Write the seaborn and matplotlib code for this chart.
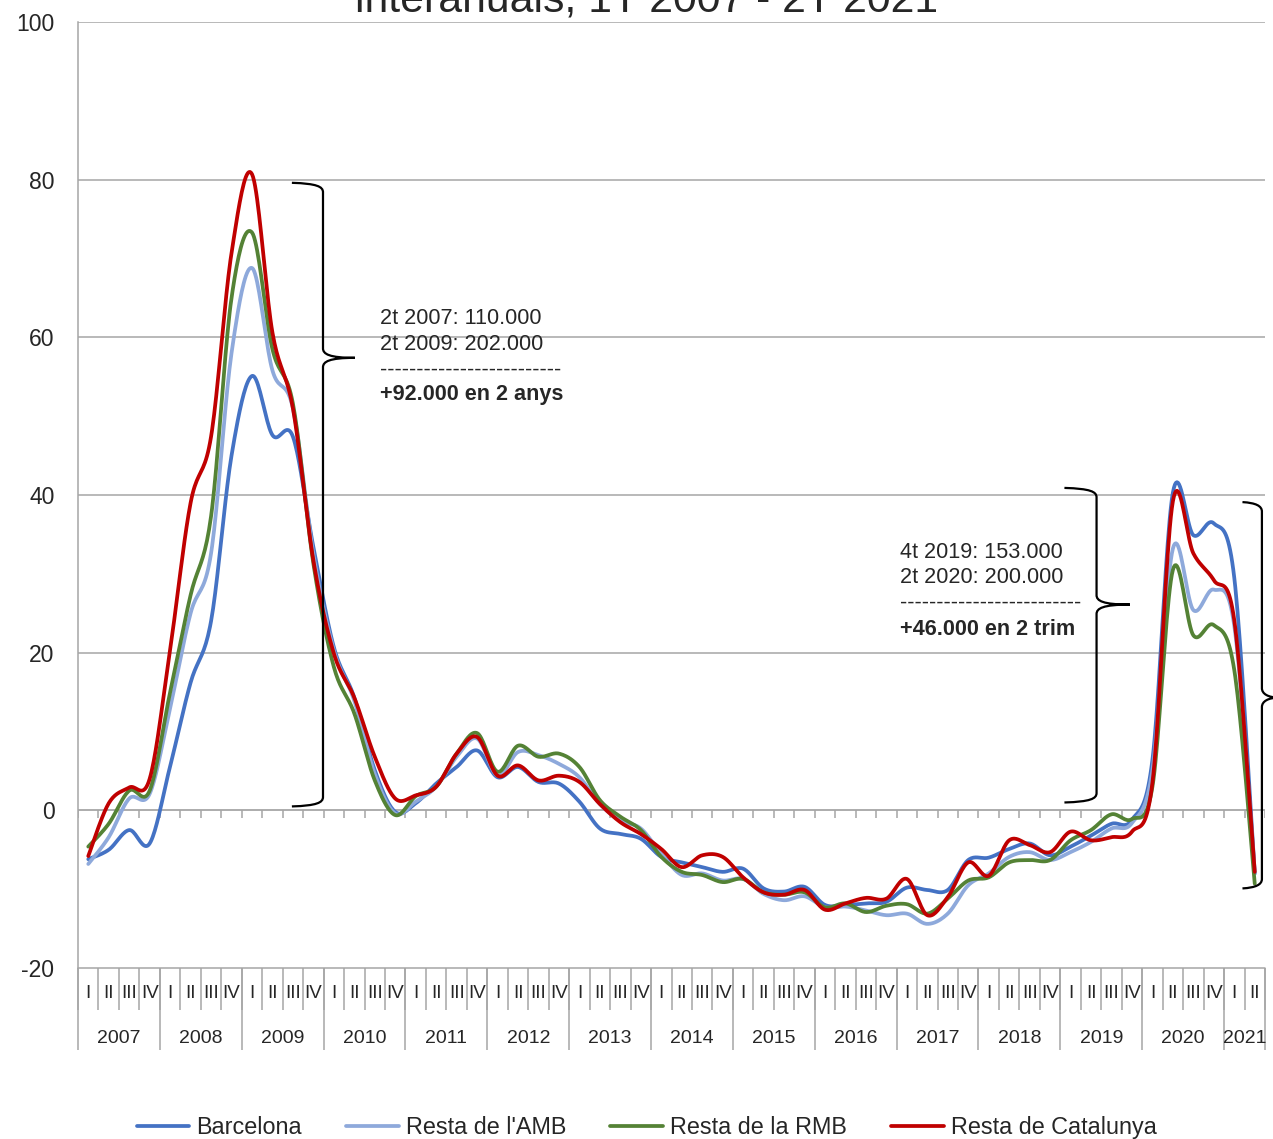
import numpy as np
import pandas as pd
import seaborn as sns
import matplotlib.pyplot as plt
from matplotlib.path import Path
from matplotlib.patches import PathPatch
from matplotlib.lines import Line2D

# quarterly data, 1T 2007 - 2T 2021
years = ["2007", "2008", "2009", "2010", "2011", "2012", "2013", "2014",
         "2015", "2016", "2017", "2018", "2019", "2020", "2021"]
quarters_per_year = [4] * 14 + [2]
quarter_names = ["I", "II", "III", "IV"]

series_names = ["Barcelona", "Resta de l'AMB", "Resta de la RMB", "Resta de Catalunya"]
series_colors = ["#4472C4", "#8EA9DB", "#548235", "#C00000"]

barcelona = [-6.2, -5.0, -2.5, -4.2, 5.6, 16.2, 24.0, 45.0, 55.1, 47.6, 47.4, 33.4,
             20.7, 14.3, 5.1, -0.2, 0.9, 3.4, 5.5, 7.6, 4.2, 5.5, 3.6, 3.4,
             1.1, -2.3, -3.0, -3.6, -5.9, -6.6, -7.2, -7.8, -7.4, -9.9, -10.3, -9.7,
             -12.0, -12.0, -11.8, -11.6, -9.8, -10.1, -10.1, -6.3, -6.0, -4.9, -4.2, -5.7,
             -4.6, -3.2, -1.7, -1.2, 6.4, 40.3, 34.9, 36.4, 29.5, -8.0]
resta_amb = [-6.8, -3.4, 1.5, 2.1, 13.0, 25.0, 32.6, 58.0, 68.8, 55.8, 51.0, 32.5,
             20.3, 13.9, 4.6, -0.4, 1.1, 3.0, 6.8, 9.1, 4.4, 7.4, 7.0, 5.9,
             4.2, 0.8, -1.3, -2.3, -5.5, -8.2, -8.0, -8.9, -8.7, -10.6, -11.4, -10.9,
             -12.3, -12.2, -12.7, -13.3, -13.1, -14.4, -13.1, -9.5, -8.0, -5.9, -5.3, -6.3,
             -5.3, -4.0, -2.3, -1.6, 5.1, 33.2, 25.4, 28.0, 23.4, -8.0]
resta_rmb = [-4.6, -1.7, 2.5, 2.5, 15.0, 27.3, 37.3, 65.0, 73.3, 58.5, 51.6, 31.3,
             18.2, 12.3, 3.8, -0.6, 1.8, 3.0, 7.2, 9.8, 4.9, 8.2, 6.8, 7.2,
             5.5, 1.3, -0.8, -2.5, -5.9, -7.8, -8.2, -9.1, -8.7, -10.4, -10.7, -10.4,
             -12.3, -11.8, -12.9, -12.1, -11.9, -13.1, -11.2, -8.9, -8.5, -6.6, -6.3, -6.3,
             -3.8, -2.5, -0.5, -1.1, 3.0, 30.5, 22.2, 23.5, 17.8, -9.3]
resta_cat = [-5.8, 0.9, 2.9, 4.0, 20.4, 39.0, 47.4, 70.7, 80.7, 60.6, 51.0, 31.7,
             19.9, 14.3, 6.8, 1.5, 1.9, 3.0, 7.2, 9.3, 4.4, 5.7, 3.8, 4.4,
             3.6, 0.8, -1.5, -3.0, -4.9, -7.2, -5.7, -5.9, -8.5, -10.4, -10.7, -10.1,
             -12.6, -11.8, -11.1, -11.2, -8.7, -13.3, -11.0, -6.6, -8.3, -3.8, -4.4, -5.3,
             -2.7, -3.8, -3.4, -2.7, 3.5, 39.2, 32.6, 29.2, 24.1, -7.8]

note_left = ["2t 2007: 110.000", "2t 2009: 202.000", "-" * 25, "+92.000 en 2 anys"]
note_right = ["4t 2019: 153.000", "2t 2020: 200.000", "-" * 25, "+46.000 en 2 trim"]
title_line = "interanuals, 1T 2007 - 2T 2021"


def smooth_curve(values, steps=20):
    """Smoothed line through the points (Bezier, like a spreadsheet smoothed line)."""
    y = np.asarray(values, dtype=float)
    x = np.arange(len(y), dtype=float)
    px = np.concatenate([[x[0]], x, [x[-1]]])
    py = np.concatenate([[y[0]], y, [y[-1]]])
    t = np.linspace(0, 1, steps, endpoint=False)
    xs, ys = [], []
    for i in range(1, len(px) - 2):
        for p, out in ((px, xs), (py, ys)):
            p0, p1, p2, p3 = p[i - 1], p[i], p[i + 1], p[i + 2]
            c1 = p1 + (p2 - p0) / 6
            c2 = p2 - (p3 - p1) / 6
            out.extend((1 - t) ** 3 * p1 + 3 * (1 - t) ** 2 * t * c1
                       + 3 * (1 - t) * t ** 2 * c2 + t ** 3 * p2)
    xs.append(x[-1])
    ys.append(y[-1])
    return np.array(xs), np.array(ys)


def draw_brace(ax, x_arm, x_bar, x_tip, y_top, y_mid, y_bot, r=1.2):
    verts = [(x_arm, y_top),
             (x_bar - 0.3, y_top - 0.1), (x_bar, y_top - r * 0.4), (x_bar, y_top - r),
             (x_bar, y_mid + r),
             (x_bar, y_mid + r * 0.4), (x_bar + 0.3, y_mid), (x_tip, y_mid),
             (x_bar + 0.3, y_mid), (x_bar, y_mid - r * 0.4), (x_bar, y_mid - r),
             (x_bar, y_bot + r),
             (x_bar, y_bot + r * 0.4), (x_bar - 0.3, y_bot + 0.1), (x_arm, y_bot)]
    codes = ([Path.MOVETO] + [Path.CURVE4] * 3 + [Path.LINETO] + [Path.CURVE4] * 6
             + [Path.LINETO] + [Path.CURVE4] * 3)
    ax.add_patch(PathPatch(Path(verts, codes), facecolor="none", edgecolor="black",
                           lw=1.6, clip_on=False, zorder=4))


sns.set_style("white")
plt.rcParams["font.family"] = ["Liberation Sans", "DejaVu Sans"]
plt.rcParams["axes.unicode_minus"] = False

all_values = [barcelona, resta_amb, resta_rmb, resta_cat]
frames = []
for name, vals in zip(series_names, all_values):
    sx, sy = smooth_curve(vals)
    frames.append(pd.DataFrame({"x": sx, "y": sy, "serie": name}))
df = pd.concat(frames, ignore_index=True)

fig = plt.figure(figsize=(12.73, 11.39), dpi=100)
ax = fig.add_axes([0.0613, 0.1501, 0.9324, 0.8306])

grid_color = "#A6A6A6"
for gy in [20, 40, 60, 80, 100]:
    ax.axhline(gy, color=grid_color, lw=1.1, zorder=1)
ax.axhline(-20, color=grid_color, lw=1.1, zorder=1, clip_on=False)

sns.lineplot(data=df, x="x", y="y", hue="serie", hue_order=series_names,
             palette=series_colors, sort=False, estimator=None, lw=2.7,
             legend=False, ax=ax, zorder=3)

n = len(barcelona)
ax.set_xlim(-0.5, n - 0.5)
ax.set_ylim(-20, 100)

# category axis at zero with tick marks between quarters
bounds = np.arange(n + 1) - 0.5
ax.axhline(0, color=grid_color, lw=1.3, zorder=2)
ax.vlines(bounds, -0.95, 0, color=grid_color, lw=1.1, zorder=2)

# y axis
for s in ["top", "right", "bottom"]:
    ax.spines[s].set_visible(False)
ax.spines["left"].set_color(grid_color)
ax.spines["left"].set_linewidth(1.1)
ax.set_yticks(range(-20, 101, 20))
ax.tick_params(axis="y", length=6, width=1.1, color=grid_color, pad=11, labelsize=16.5)
ax.set_xticks([])
ax.set_xlabel("")
ax.set_ylabel("")

# multi-level labels below the plot
trans = ax.get_xaxis_transform()
q_idx = 0
year_edges = [-0.5]
for yr, nq in zip(years, quarters_per_year):
    for q in range(nq):
        ax.text(q_idx, -0.0264, quarter_names[q], transform=trans, ha="center",
                va="center", fontsize=13.5)
        q_idx += 1
    ax.text(q_idx - nq / 2 - 0.5, -0.074, yr, transform=trans, ha="center",
            va="center", fontsize=14)
    year_edges.append(q_idx - 0.5)
ax.vlines(bounds, -0.0444, 0, transform=trans, color=grid_color, lw=1.1, clip_on=False)
ax.vlines(year_edges, -0.0867, 0, transform=trans, color=grid_color, lw=1.1, clip_on=False)

# braces and notes
draw_brace(ax, 9.95, 11.47, 13.03, 79.6, 57.4, 0.5)
draw_brace(ax, 47.7, 49.27, 50.9, 40.9, 26.1, 1.0)
draw_brace(ax, 56.4, 57.35, 58.2, 39.1, 14.3, -9.9)

for i, (line, yv) in enumerate(zip(note_left, [62.4, 59.1, 55.8, 52.7])):
    ax.text(14.25, yv, line, ha="left", va="center", fontsize=15.6,
            fontweight="bold" if i == 3 else "normal")
for i, (line, yv) in enumerate(zip(note_right, [32.7, 29.6, 26.3, 23.0])):
    ax.text(39.65, yv, line, ha="left", va="center", fontsize=15.6,
            fontweight="bold" if i == 3 else "normal")

# title (only its second line is visible)
fig.text(0.508, 0.9895, title_line, ha="center", va="baseline", fontsize=30.8)

handles = [Line2D([], [], color=c, lw=2.7) for c in series_colors]
fig.legend(handles, series_names, loc="center", bbox_to_anchor=(0.508, 0.0097),
           ncol=4, frameon=False, fontsize=16.8, handlelength=2.25,
           handletextpad=0.3, columnspacing=1.9)

fig.savefig("out.png", dpi=100)
